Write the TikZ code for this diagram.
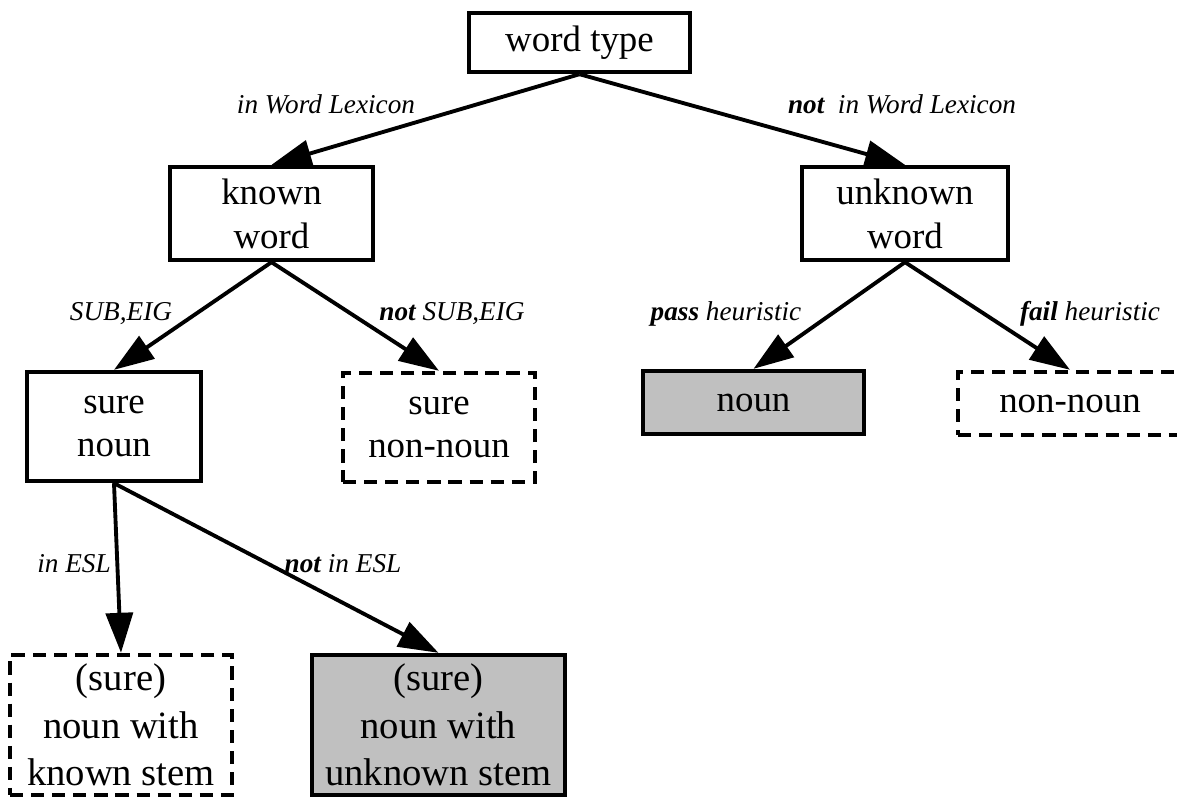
\documentclass[tikz,border=0pt]{standalone}
\usepackage{fontspec}
\setmainfont{Liberation Serif}
\usepackage{tikz}
\usetikzlibrary{arrows.meta}
\definecolor{boxgray}{RGB}{192,192,192}
\tikzstyle{wordbox}=[draw,line width=2.5pt,align=center,inner sep=0pt,font=\fontsize{21}{25}\selectfont]
\tikzstyle{dashbox}=[wordbox,dash pattern=on 7.5pt off 4.5pt]
\tikzstyle{graybox}=[wordbox,fill=boxgray]
\tikzstyle{edgelabel}=[font=\fontsize{15.5}{18}\selectfont\itshape,inner sep=0pt,anchor=base]
\tikzstyle{branch}=[line width=2.2pt,-{Triangle[length=0.8cm,width=0.54cm]}]

\begin{document}
\begin{tikzpicture}[x=0.02cm,y=-0.02cm]
\useasboundingbox (0,0) rectangle (1177,798);
% the word classes
\node [wordbox,minimum width=4.42cm,minimum height=1.18cm] (wt) at (579.5,42.5) {word type};
\node [wordbox,minimum width=4.06cm,minimum height=1.86cm] (kw) at (271.5,213.5) {known\\word};
\node [wordbox,minimum width=4.12cm,minimum height=1.86cm] (uw) at (905,213.5) {unknown\\word};
\node [wordbox,minimum width=3.48cm,minimum height=2.18cm] (sn) at (114,426.5) {sure\\noun};
\node [dashbox,minimum width=3.84cm,minimum height=2.18cm] (snn) at (439,427.5) {sure\\non-noun};
\node [graybox,minimum width=4.42cm,minimum height=1.26cm] (noun) at (753.5,402.5) {noun};
\node [dashbox,minimum width=4.48cm,minimum height=1.26cm] (nn) at (1070,403.5) {non-noun};
\node [dashbox,minimum width=4.44cm,minimum height=2.80cm,font=\fontsize{22}{27}\selectfont] (nks) at (121,725) {(sure)\\noun with\\known stem};
\node [graybox,minimum width=5.06cm,minimum height=2.80cm,font=\fontsize{22}{27}\selectfont] (nus) at (438.5,725) {(sure)\\noun with\\unknown stem};

\draw [branch] (wt.south) -- (kw.north);
\draw [branch] (wt.south) -- (uw.north);
\draw [branch] (kw.south) -- (sn.north);
\draw [branch] (kw.south) -- (snn.north);
\draw [branch] (uw.south) -- (noun.north);
\draw [branch] (uw.south) -- (nn.north);
\draw [branch] (sn.south) -- (nks.north);
\draw [branch] (sn.south) -- (nus.north);

% the tests
\node [edgelabel] (lexin) at (326,113) {in Word Lexicon};
\node [edgelabel] (lexnot) at (902,113) {\textbf{not}\ \ in Word Lexicon};
\node [edgelabel] (subin) at (121,320) {SUB,EIG};
\node [edgelabel] (subnot) at (452,320) {\textbf{not} SUB,EIG};
\node [edgelabel] (heurpass) at (726,320) {\textbf{pass} heuristic};
\node [edgelabel] (heurfail) at (1090,320) {\textbf{fail} heuristic};
\node [edgelabel] (eslin) at (74,572) {in ESL};
\node [edgelabel] (eslnot) at (343,572) {\textbf{not} in ESL};
\end{tikzpicture}
\end{document}
